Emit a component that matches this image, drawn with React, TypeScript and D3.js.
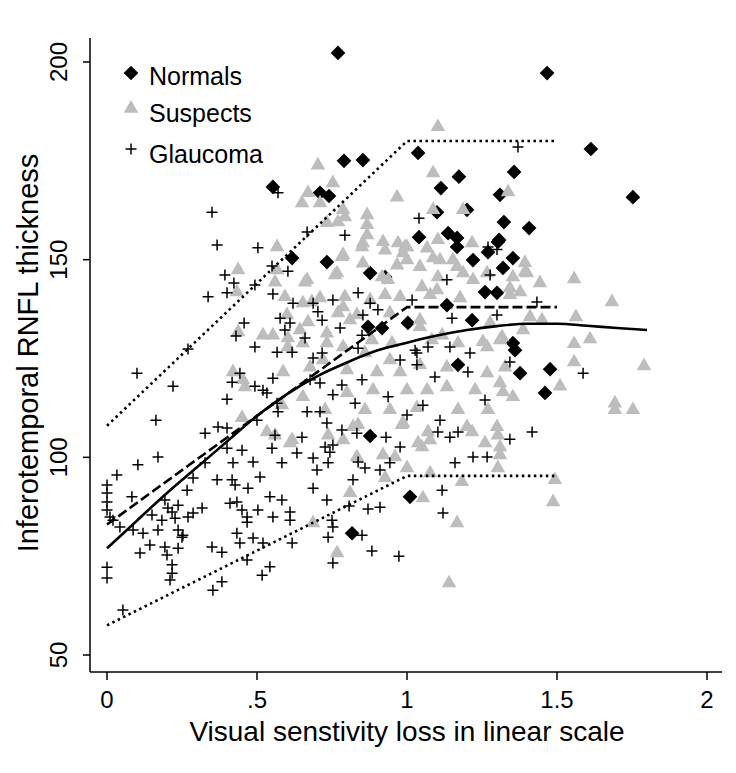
import React from "react";
import * as d3 from "d3";

// ---- data ----
const normals: [number, number][] = [
  [0.77, 202.3], [1.467, 197.2], [1.613, 178], [1.753, 165.8], [1.037, 177], [0.79, 175], [0.853, 175.2],
  [0.553, 168.4], [0.71, 166.9], [0.74, 166.1], [1.173, 171], [1.113, 168.1], [1.357, 172.2], [1.31, 166.4],
  [1.1, 162], [1.2, 162.6], [1.323, 159.5], [1.407, 158], [1.04, 155.7], [1.137, 156.7], [1.167, 155.5],
  [1.307, 155], [0.617, 150.4], [0.733, 149.4], [0.927, 145.6], [0.877, 146.6], [1.003, 134], [1.133, 138.5],
  [0.917, 132.7], [0.87, 133], [1.17, 123.4], [1.217, 134.7], [1.353, 128.9], [1.26, 141.8], [1.3, 141.6],
  [1.32, 147.9], [1.353, 150.4], [1.22, 149.9], [1.27, 151.9], [1.303, 154.5], [1.167, 153.2], [0.877, 105.4],
  [1.01, 90], [0.817, 80.8], [1.36, 127.1], [1.377, 121.3], [1.477, 122.3], [1.46, 116.3],
];

const suspects: [number, number][] = [
  [0.703, 173.9], [0.753, 169.4], [0.67, 166.9], [0.65, 164.3], [0.71, 164.3], [0.787, 162.6], [0.793, 160.8],
  [0.733, 159.3], [0.867, 161.3], [0.867, 158.8], [0.967, 165.8], [0.92, 154.5], [0.97, 154.2], [0.867, 156.2],
  [0.567, 153.2], [0.77, 159.5], [0.853, 154.2], [0.927, 152.4], [0.993, 153.2], [0.787, 151.2],
  [1.087, 171.9], [1.087, 162.6], [1.187, 162.6], [1.337, 167.1], [1.0, 153.2], [1.067, 152.9], [1.103, 155],
  [1.217, 154.2], [1.103, 183.6],
  [0.437, 147.4], [0.567, 147.4], [0.56, 144.3], [0.66, 144.3], [0.433, 141.8], [0.653, 139], [0.52, 130.9],
  [0.553, 130.9], [0.603, 130.2], [0.6, 136], [0.437, 131.7], [0.653, 128.9], [0.42, 121.6], [0.587, 121.6],
  [0.453, 119.6], [0.46, 117.8], [0.653, 115.3], [0.583, 113.2], [0.45, 110], [0.533, 106.4], [0.617, 104.4],
  [0.56, 105.6], [0.61, 103.6],
  [0.737, 105.6], [0.787, 104.4], [0.837, 108.2], [0.983, 108.2], [0.92, 100.6], [0.96, 100.1], [0.833, 100.1],
  [0.927, 94.8], [1.0, 97.3], [1.077, 96], [1.05, 102.6], [1.077, 104.4], [1.037, 103.6], [1.07, 106.4],
  [1.217, 106.4], [1.26, 103.6], [1.303, 105.6], [1.31, 102.6], [1.31, 100.6], [1.303, 97.3], [1.183, 93.8],
  [1.053, 89.7], [1.167, 83.4], [1.14, 68.2], [1.493, 94.3], [1.487, 88.7], [0.687, 83.4], [0.767, 75.8],
  [0.81, 91],
  [1.393, 149.2], [1.4, 146.6], [1.443, 144.1], [1.557, 145.1], [1.377, 141.8], [1.343, 141.1], [1.683, 139.3],
  [1.45, 134.7], [1.563, 135.5], [1.387, 132.2], [1.61, 129.9], [1.557, 128.7], [1.557, 124.1], [1.79, 123.1],
  [1.51, 118], [1.693, 113.7], [1.693, 112], [1.753, 112], [1.32, 116.5],
  [0.667, 144.9], [0.76, 146.1], [0.85, 153.2], [0.987, 151.7], [1.11, 149.9], [1.167, 148.2], [1.103, 145.6],
  [1.043, 148.2], [0.967, 148.6], [0.917, 145.6], [0.71, 140.3], [0.793, 140.6], [0.927, 141.1], [0.977, 140.6],
  [1.077, 141.1], [1.177, 140.3], [1.22, 144.9], [1.267, 146.6], [1.353, 145.6], [0.67, 134.2], [0.77, 136.5],
  [0.81, 134.7], [0.943, 136.5], [1.043, 134.7], [1.277, 134], [1.317, 130.4], [0.733, 128.9], [0.883, 129.7],
  [0.95, 128.9], [1.083, 129.7], [1.17, 128.9], [1.267, 127.9], [0.677, 122.8], [0.8, 122.1], [0.9, 121.6],
  [0.977, 121.6], [1.133, 122.8], [1.267, 121.3], [1.327, 122.8], [0.8, 116.3], [0.887, 117], [1.0, 117],
  [1.067, 117], [1.133, 117.8], [1.227, 117], [1.31, 118.8], [0.727, 112], [0.86, 112], [0.943, 112],
  [1.033, 112.5], [1.17, 112], [1.27, 112], [1.353, 115.3], [0.82, 107.7], [0.987, 108.7], [1.2, 107.7],
  [1.3, 107.7],
  [0.767, 146.6], [0.783, 150.7], [0.853, 149.1], [0.937, 144.9], [0.877, 139.8], [0.787, 138], [0.683, 139.3],
  [0.593, 140.6], [0.833, 136], [0.643, 132.2], [0.733, 131.4], [0.603, 127.9], [0.787, 127.9], [0.86, 126.4],
  [0.943, 124.6], [0.72, 124.6], [1.0, 149.9], [1.087, 150.4], [1.153, 149.9], [1.187, 146.6], [1.393, 146.9],
  [1.343, 142.8], [1.05, 143.1], [1.1, 142.3], [1.043, 133], [1.117, 130.9], [1.31, 129.7], [1.41, 135.5],
  [1.253, 129.2], [1.043, 123.4],
];

const glaucoma: [number, number][] = [
  [0.57, 166.9], [0.35, 162], [0.367, 153.7], [0.503, 153], [0.667, 157], [0.793, 156.2], [1.37, 178.5],
  [1.04, 160.5], [1.27, 153.2], [1.3, 152.6],
  [0.55, 148.4], [0.603, 147.1], [0.393, 146.1], [0.423, 144.1], [0.4, 141.6], [0.337, 140.6], [0.493, 143.6],
  [0.553, 141.3], [0.62, 139], [0.577, 135.2], [0.61, 134], [0.457, 134], [0.43, 130.7], [0.593, 132.2],
  [0.66, 130.2], [0.493, 127.9], [0.567, 126.6], [0.617, 126.6], [0.27, 127.4], [0.1, 121.3], [0.22, 118],
  [0.443, 121.3], [0.417, 119], [0.553, 120], [0.493, 118], [0.52, 117], [0.533, 116.3], [0.4, 114.7],
  [0.567, 113.7], [0.57, 111.5], [0.5, 109.4], [0.667, 111.5], [0.163, 109.4], [0.327, 106.1], [0.37, 107.7],
  [0.4, 107.4], [0.56, 105.6], [0.65, 105.1],
  [0.17, 100.1], [0.103, 98.1], [0.033, 95.5], [0, 93], [0, 91], [0, 88.7], [0, 86.7], [0.01, 84.9],
  [0.02, 84.1], [0.043, 82.4], [0.083, 90], [0.087, 81.6], [0.12, 80.8], [0.143, 77.8], [0.11, 75.8],
  [0.17, 81.6], [0.183, 84.1], [0.15, 85.4], [0.217, 86.2], [0.237, 87.9], [0.227, 84.6], [0.237, 81.6],
  [0.253, 80.3], [0.27, 84.9], [0.287, 85.9], [0.317, 87.2], [0.193, 77.3], [0.2, 75.3], [0.217, 72.8],
  [0.217, 70.7], [0.21, 69], [0.237, 77], [0.25, 79.8], [0, 72.2], [0, 69.5], [0.053, 61.4], [0.193, 89.2],
  [0.203, 87.2], [0.267, 91.7], [0.287, 94.8], [0.367, 94.3], [0.417, 94.3], [0.427, 93], [0.47, 92.2],
  [0.51, 95], [0.42, 98.6], [0.487, 98.8], [0.45, 101.8], [0.4, 102.3], [0.327, 98.6], [0.41, 88.4],
  [0.433, 88.7], [0.45, 86.7], [0.467, 84.9], [0.467, 83.6], [0.503, 86.7], [0.543, 90], [0.583, 89.2],
  [0.553, 84.9], [0.61, 86.2], [0.61, 84.1], [0.433, 80.8], [0.487, 79.6], [0.52, 78.3], [0.443, 78.3],
  [0.35, 77.3], [0.383, 76], [0.467, 74], [0.543, 72.3], [0.517, 70.2], [0.383, 68.5], [0.353, 66.4],
  [0.617, 78.3], [0.55, 102.3], [0.633, 101.1], [0.583, 98.6],
  [0.733, 108.7], [0.783, 106.9], [0.833, 106.1], [0.93, 105.1], [0.977, 102.6], [1.103, 106.4], [1.143, 105.1],
  [1.17, 106.4], [1.343, 104.6], [1.417, 106.4], [0.727, 102.6], [0.743, 101.3], [0.753, 103.1], [0.687, 99.8],
  [0.737, 98.6], [0.7, 96.8], [0.837, 98.8], [0.86, 97.3], [0.91, 96.8], [0.943, 98.6], [0.82, 94.3],
  [0.733, 89.2], [0.807, 87.7], [0.87, 86.9], [0.91, 87.4], [1.117, 91.7], [1.12, 85.9], [1.16, 98.6],
  [1.22, 100.1], [1.267, 100.1], [0.75, 84.1], [0.753, 82.4], [0.737, 79.8], [0.85, 80.3], [0.883, 76.3],
  [0.973, 75], [0.753, 73.3], [0.687, 92.2],
  [1.133, 144.9], [1.277, 146.1], [0.837, 141.6], [0.877, 139], [0.903, 137.3], [0.753, 139.8], [0.687, 139],
  [0.703, 136.8], [0.717, 134.7], [0.687, 125.1], [0.717, 126.4], [0.777, 132.7], [0.853, 136], [0.85, 130.9],
  [0.837, 127.6], [1.017, 139.8], [1.15, 135.2], [1.143, 127.9], [1.21, 126.4], [1.033, 126.4], [0.977, 124.6],
  [1.033, 123.4], [1.093, 120.3], [1.203, 121.6], [1.26, 114.5], [0.677, 119.6], [0.71, 118.8], [0.783, 118.3],
  [0.85, 119.6], [0.753, 115.8], [0.827, 113.7], [0.937, 115.3], [1.053, 113.2], [1, 110.7], [0.71, 111.5],
  [1.11, 109.4], [1.433, 139.3], [1.587, 121.3], [1.343, 124.1], [1.3, 136], [1.027, 127.1], [1.07, 127.9],
];

// fitted curves
const smoothX = [0, 0.1, 0.2, 0.3, 0.4, 0.5, 0.6, 0.7, 0.8, 0.9, 1.0, 1.1, 1.2, 1.3, 1.4, 1.5, 1.6, 1.7, 1.8];
const smoothY = [77, 84, 91, 97.5, 104, 110.5, 116, 120.5, 124, 127, 129, 130.8, 132.2, 133.2, 133.8, 133.8, 133.3, 132.7, 132.2];
const brokenX = [0, 1, 1.5];
const brokenFit = [83, 138, 138];
const upperBand = [108, 180, 180];
const lowerBand = [57.5, 95.3, 95.3];

const xTicks = [0, 0.5, 1, 1.5, 2];
const xTickLabels = ["0", ".5", "1", "1.5", "2"];
const yTicks = [50, 100, 150, 200];

const legendItems = ["Normals", "Suspects", "Glaucoma"];

const W = 736;
const H = 773;
const FONT = "'Liberation Sans', Arial, sans-serif";
const GRAY = "#bdbdbd";

const x = d3.scaleLinear().domain([0, 2]).range([107, 707]);
const y = d3.scaleLinear().domain([50, 200]).range([655, 62]);

const diamond = d3.symbol(d3.symbolSquare, 108)() as string;
const triangle = d3.symbol(d3.symbolTriangle, 92)() as string;
const plus = "M-5.5,0H5.5M0,-5.5V5.5";

const App = () => {
  const lineOf = (xs: number[], ys: number[], curve = d3.curveLinear) =>
    d3
      .line<number>()
      .x((_, i) => x(xs[i]))
      .y((d) => y(d))
      .curve(curve)(ys) as string;

  const axisLeft = 90;
  const axisBottom = 672;

  const marker = (kind: number, cx: number, cy: number, key?: React.Key) => {
    if (kind === 0)
      return <path key={key} d={diamond} transform={`translate(${cx},${cy}) rotate(45)`} fill="#000" />;
    if (kind === 1) return <path key={key} d={triangle} transform={`translate(${cx},${cy})`} fill={GRAY} />;
    return <path key={key} d={plus} transform={`translate(${cx},${cy})`} stroke="#000" strokeWidth={1.5} fill="none" />;
  };

  return (
    <svg
      width={W}
      height={H}
      style={{ position: "absolute", left: 0, top: 0, background: "#fff", fontFamily: FONT }}
    >
      <rect width={W} height={H} fill="#fff" />

      {/* points */}
      <g>{normals.map((d, i) => marker(0, x(d[0]), y(d[1]), "n" + i))}</g>
      <g>{suspects.map((d, i) => marker(1, x(d[0]), y(d[1]), "s" + i))}</g>
      <g>{glaucoma.map((d, i) => marker(2, x(d[0]), y(d[1]), "g" + i))}</g>

      {/* fitted lines */}
      <path d={lineOf(brokenX, upperBand)} fill="none" stroke="#000" strokeWidth={2.6} strokeDasharray="2.5 3.5" />
      <path d={lineOf(brokenX, lowerBand)} fill="none" stroke="#000" strokeWidth={2.6} strokeDasharray="2.5 3.5" />
      <path d={lineOf(brokenX, brokenFit)} fill="none" stroke="#000" strokeWidth={2.6} strokeDasharray="10 4" />
      <path d={lineOf(smoothX, smoothY, d3.curveMonotoneX)} fill="none" stroke="#000" strokeWidth={2.6} />

      {/* axes */}
      <line x1={axisLeft} x2={axisLeft} y1={38} y2={axisBottom} stroke="#000" strokeWidth={1.5} />
      <line x1={axisLeft} x2={722} y1={axisBottom} y2={axisBottom} stroke="#000" strokeWidth={1.5} />
      {yTicks.map((t) => (
        <g key={t}>
          <line x1={axisLeft - 7} x2={axisLeft} y1={y(t)} y2={y(t)} stroke="#000" strokeWidth={1.5} />
          <text
            transform={`translate(67,${y(t)}) rotate(-90)`}
            textAnchor="middle"
            fontSize={24}
            fill="#000"
          >
            {t}
          </text>
        </g>
      ))}
      {xTicks.map((t, i) => (
        <g key={t}>
          <line x1={x(t)} x2={x(t)} y1={axisBottom} y2={axisBottom + 8} stroke="#000" strokeWidth={1.5} />
          <text x={x(t)} y={708} textAnchor="middle" fontSize={24} fill="#000">
            {xTickLabels[i]}
          </text>
        </g>
      ))}
      <text x={407} y={741} textAnchor="middle" fontSize={28} fill="#000">
        Visual senstivity loss in linear scale
      </text>
      <text transform="translate(38,353) rotate(-90)" textAnchor="middle" fontSize={29} fill="#000">
        Inferotemporal RNFL thickness
      </text>

      {/* legend */}
      {legendItems.map((name, i) => (
        <g key={name}>
          {marker(i, 131, [73, 108.5, 149][i])}
          <text x={149} y={[85, 122, 163][i]} fontSize={25} fill="#000">
            {name}
          </text>
        </g>
      ))}
    </svg>
  );
};

export default App;
